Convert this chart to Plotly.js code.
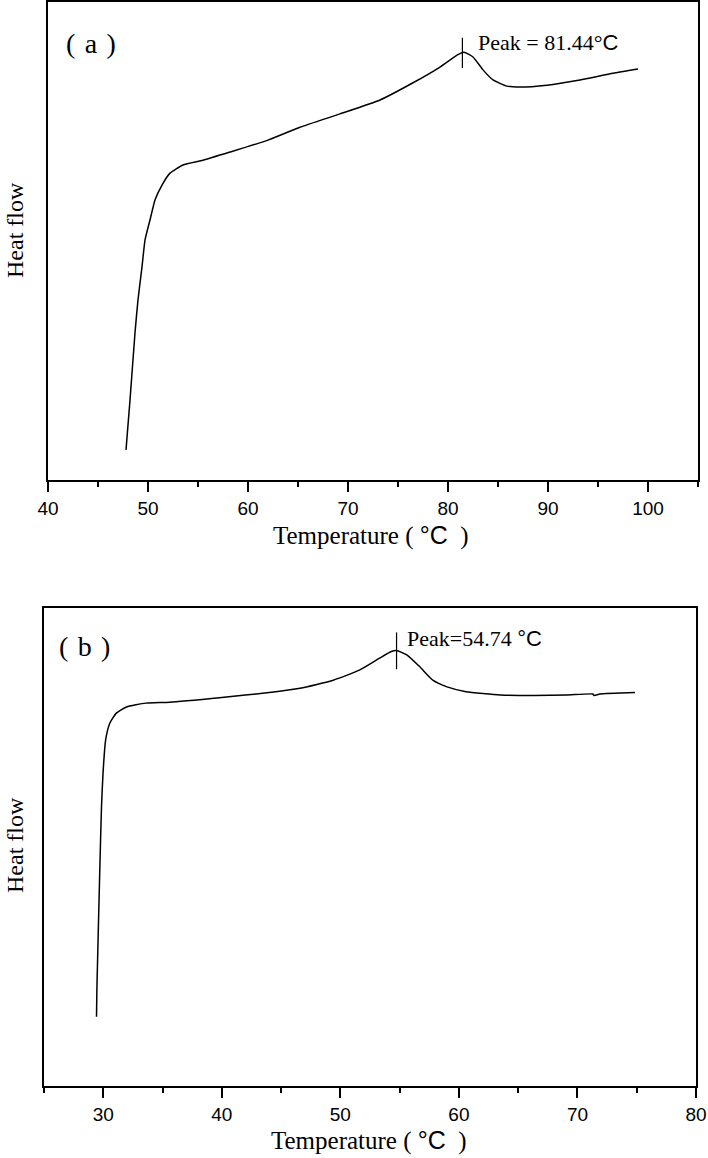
<!DOCTYPE html>
<html>
<head>
<meta charset="utf-8">
<script src="https://cdn.plot.ly/plotly-3.0.1.min.js"></script>
<style>html,body{margin:0;padding:0;background:#fff;}</style>
</head>
<body>
<div id="chart" style="width:708px;height:1158px;"></div>
<script>
// Panel (a) DSC curve: temperature (°C) and heat flow (arbitrary units, 0-100 scale)
const tempA = [47.8, 48.2, 48.7, 49.0, 49.4, 49.7, 50.2, 50.7, 51.4, 52.2, 53.5, 55.5, 58.2, 62.0, 65.2, 69.2, 73.2, 76.5, 79.2, 80.9, 81.6, 82.5, 83.5, 84.5, 85.9, 87.2, 89.9, 93.2, 96.5, 99.0];
const heatA = [6.3, 16.7, 30.8, 37.7, 44.6, 50.2, 54.4, 58.6, 61.7, 64.2, 65.9, 66.9, 68.6, 71.1, 73.8, 76.6, 79.5, 83.1, 86.4, 88.9, 89.5, 88.5, 85.8, 83.7, 82.4, 82.2, 82.6, 83.7, 85.1, 86.0];
const peakA = 81.44;
const peakMarkA = [92.5, 86.2];

// Panel (b) DSC curve
const tempB = [29.43, 29.46, 29.48, 29.56, 29.7, 29.85, 29.98, 30.2, 30.55, 31.1, 31.96, 33.6, 35.6, 40.0, 44.0, 46.6, 49.4, 51.6, 53.3, 54.3, 54.74, 55.6, 56.7, 57.8, 59.0, 60.6, 63.5, 66.3, 69.1, 71.3, 71.4, 71.9, 74.85];
const heatB = [14.5, 20.0, 22.2, 30.5, 44.6, 58.4, 65.5, 72.4, 75.9, 78.0, 79.3, 80.1, 80.3, 81.3, 82.3, 83.2, 84.9, 87.0, 89.5, 90.9, 91.1, 90.2, 87.7, 84.9, 83.5, 82.5, 81.8, 81.7, 81.8, 82.0, 81.7, 82.0, 82.3];
const peakB = 54.74;
const peakMarkB = [94.9, 87.2];

const xTicksA = [40, 50, 60, 70, 80, 90, 100];
const xTicksB = [30, 40, 50, 60, 70, 80];
const xRangeA = [40, 105];
const xRangeB = [25, 80];

const W = 708, H = 1158;
const px = v => v / W;
const py = v => 1 - v / H;

const serif = 'Liberation Serif, Times New Roman, serif';
const sans = 'Liberation Sans, Arial, sans-serif';

const lineStyle = {color: '#000', width: 1.5, shape: 'spline', smoothing: 0.5};
const traces = [
  {x: tempA, y: heatA, type: 'scatter', mode: 'lines', line: lineStyle, xaxis: 'x', yaxis: 'y', hoverinfo: 'skip'},
  {x: [peakA, peakA], y: peakMarkA, type: 'scatter', mode: 'lines', line: {color: '#000', width: 1.2}, xaxis: 'x', yaxis: 'y', hoverinfo: 'skip'},
  {x: tempB, y: heatB, type: 'scatter', mode: 'lines', line: lineStyle, xaxis: 'x2', yaxis: 'y2', hoverinfo: 'skip'},
  {x: [peakB, peakB], y: peakMarkB, type: 'scatter', mode: 'lines', line: {color: '#000', width: 1.2}, xaxis: 'x2', yaxis: 'y2', hoverinfo: 'skip'}
];

function xAxis(range, ticks, domain, anchor) {
  return {
    domain: domain, anchor: anchor, range: range,
    tickmode: 'array', tickvals: ticks, ticktext: ticks.map(String),
    ticks: 'outside', ticklen: 10, tickwidth: 2, tickcolor: '#000',
    minor: {dtick: 5, tick0: 0, ticks: 'outside', ticklen: 5, tickwidth: 2, tickcolor: '#000'},
    showline: true, linewidth: 2, linecolor: '#000', mirror: true,
    showgrid: false, zeroline: false,
    tickfont: {family: sans, size: 19, color: '#000'}
  };
}
function yAxis(domain, anchor) {
  return {
    domain: domain, anchor: anchor, range: [0, 100],
    showticklabels: false, ticks: '',
    showline: true, linewidth: 2, linecolor: '#000', mirror: true,
    showgrid: false, zeroline: false
  };
}

const cSpan = t => "<span style='font-family:Liberation Sans, Arial, sans-serif'>" + t + "</span>";
const sp = '\u2004';

const layout = {
  width: W, height: H, autosize: false,
  margin: {l: 0, r: 0, t: 0, b: 0},
  paper_bgcolor: '#fff', plot_bgcolor: '#fff',
  showlegend: false,
  xaxis: xAxis(xRangeA, xTicksA, [px(48), px(698)], 'y'),
  yaxis: yAxis([py(480), py(2)], 'x'),
  xaxis2: xAxis(xRangeB, xTicksB, [px(44), px(696)], 'y2'),
  yaxis2: yAxis([py(1086), py(608)], 'x2'),
  annotations: [
    {xref: 'paper', yref: 'paper', x: px(64), y: py(43), xanchor: 'left', yanchor: 'middle', showarrow: false,
     text: '(' + sp + 'a' + sp + ')', font: {family: serif, size: 28, color: '#000'}},
    {xref: 'paper', yref: 'paper', x: px(57), y: py(646), xanchor: 'left', yanchor: 'middle', showarrow: false,
     text: '(' + sp + 'b' + sp + ')', font: {family: serif, size: 28, color: '#000'}},
    {xref: 'paper', yref: 'paper', x: px(476), y: py(42), xanchor: 'left', yanchor: 'middle', showarrow: false,
     text: 'Peak = 81.44°' + cSpan('C'), font: {family: serif, size: 22, color: '#000'}},
    {xref: 'paper', yref: 'paper', x: px(405), y: py(638), xanchor: 'left', yanchor: 'middle', showarrow: false,
     text: 'Peak=54.74 ' + cSpan('°C'), font: {family: serif, size: 22, color: '#000'}},
    {xref: 'paper', yref: 'paper', x: px(371), y: py(536), xanchor: 'center', yanchor: 'middle', showarrow: false,
     text: 'Temperature ( ' + cSpan('°C') + '  )', font: {family: serif, size: 25, color: '#000'}},
    {xref: 'paper', yref: 'paper', x: px(369), y: py(1140), xanchor: 'center', yanchor: 'middle', showarrow: false,
     text: 'Temperature ( ' + cSpan('°C') + '  )', font: {family: serif, size: 25, color: '#000'}},
    {xref: 'paper', yref: 'paper', x: px(15), y: py(230), xanchor: 'center', yanchor: 'middle', showarrow: false, textangle: -90,
     text: 'Heat flow', font: {family: serif, size: 24, color: '#000'}},
    {xref: 'paper', yref: 'paper', x: px(15), y: py(845), xanchor: 'center', yanchor: 'middle', showarrow: false, textangle: -90,
     text: 'Heat flow', font: {family: serif, size: 24, color: '#000'}}
  ]
};

Plotly.newPlot('chart', traces, layout, {staticPlot: true, displayModeBar: false});
</script>
</body>
</html>
